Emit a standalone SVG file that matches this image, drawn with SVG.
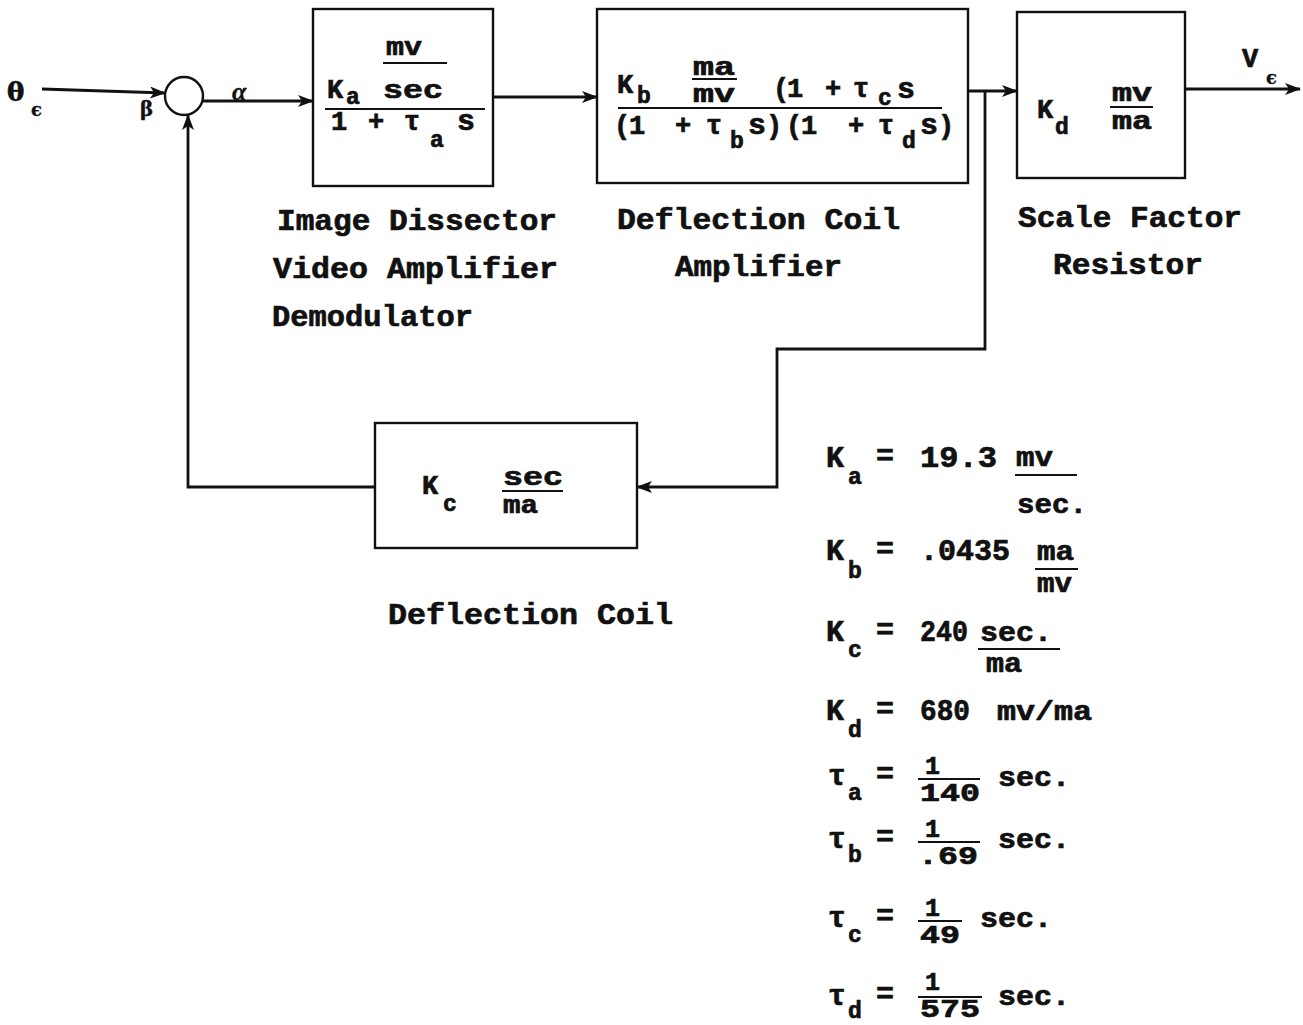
<svg xmlns="http://www.w3.org/2000/svg" width="1303" height="1025" viewBox="0 0 1303 1025">
<style>
.box{fill:none;stroke:#111;stroke-width:2.4}
.ln{fill:none;stroke:#111;stroke-width:2.8}
.fl{fill:none;stroke:#111;stroke-width:2.2}
text{font-family:"Liberation Mono","DejaVu Sans Mono",monospace;font-weight:bold;fill:#111;stroke:#111;stroke-width:0.7}
.lbl{font-size:30px}
.m{font-size:25px}
.c{font-size:27px}
.sb{font-size:23px}
.big{font-size:30px}
.p{font-size:30px}
.fr{font-size:25px}
.ps{font-size:27px}
.gr{font-family:"DejaVu Serif","Liberation Serif",serif}
</style>
<defs>
<marker id="ah" markerUnits="userSpaceOnUse" markerWidth="16" markerHeight="12" refX="15" refY="6" orient="auto">
<path d="M0,0 L16,6 L0,12 L4,6 z" fill="#111"/>
</marker>
</defs>
<rect width="1303" height="1025" fill="#fff"/>

<g id="connectors">
<line class="ln" x1="42" y1="89" x2="165" y2="93" marker-end="url(#ah)"/>
<line class="ln" x1="203" y1="101" x2="313" y2="101" marker-end="url(#ah)"/>
<line class="ln" x1="493" y1="97" x2="597" y2="97" marker-end="url(#ah)"/>
<line class="ln" x1="968" y1="91" x2="1017" y2="91" marker-end="url(#ah)"/>
<polyline class="ln" points="985,91 985,349 777,349 777,487 637,487" marker-end="url(#ah)"/>
<line class="ln" x1="1185" y1="89" x2="1300" y2="89" marker-end="url(#ah)"/>
<polyline class="ln" points="375,487 188,487 188,115" marker-end="url(#ah)"/>
</g>

<g id="input">
<text class="gr" x="7" y="101" font-size="26">θ</text>
<text class="gr" x="31" y="116" font-size="18" style="stroke-width:0.3">ϵ</text>
</g>

<g id="sum">
<circle cx="184" cy="96" r="19" class="box"/>
<text class="gr" x="140" y="116" font-size="20" style="stroke-width:0.3">β</text>
<text x="232" y="100" font-size="26" style="font-family:'Liberation Serif',serif;font-style:italic;font-weight:bold;stroke-width:0.3">α</text>
</g>

<g id="block1">
<rect class="box" x="313" y="9" width="180" height="177"/>
<text class="m" x="386" y="55" textLength="36" lengthAdjust="spacingAndGlyphs">mv</text>
<line class="fl" x1="383" y1="63" x2="447" y2="63"/>
<text class="c" x="327" y="98">K</text>
<text class="sb" x="346" y="104">a</text>
<text class="m" x="383" y="98" textLength="60" lengthAdjust="spacingAndGlyphs">sec</text>
<line class="fl" x1="325" y1="109" x2="485" y2="109"/>
<text class="c" x="331" y="130">1</text>
<text class="c" x="368" y="130">+</text>
<text class="c" x="404" y="130">τ</text>
<text class="sb" x="430" y="147">a</text>
<text class="big" x="457" y="130">s</text>
<text class="lbl" x="277" y="230" textLength="280" lengthAdjust="spacingAndGlyphs">Image Dissector</text>
<text class="lbl" x="273" y="278" textLength="285" lengthAdjust="spacingAndGlyphs">Video Amplifier</text>
<text class="lbl" x="272" y="326" textLength="201" lengthAdjust="spacingAndGlyphs">Demodulator</text>
</g>

<g id="block2">
<rect class="box" x="597" y="9" width="371" height="174"/>
<text class="c" x="617" y="93">K</text>
<text class="sb" x="637" y="103">b</text>
<text class="m" x="693" y="75" textLength="42" lengthAdjust="spacingAndGlyphs">ma</text>
<line class="fl" x1="692" y1="79" x2="737" y2="79"/>
<text class="m" x="693" y="102" textLength="42" lengthAdjust="spacingAndGlyphs">mv</text>
<text class="c" x="773" y="97">(</text>
<text class="c" x="787" y="97">1</text>
<text class="c" x="825" y="97">+</text>
<text class="c" x="853" y="97">τ</text>
<text class="sb" x="878" y="105" font-size="21">c</text>
<text class="big" x="897" y="98">s</text>
<line class="fl" x1="618" y1="108" x2="942" y2="108"/>
<text class="c" x="614" y="134">(</text>
<text class="c" x="629" y="134">1</text>
<text class="c" x="675" y="134">+</text>
<text class="c" x="706" y="134">τ</text>
<text class="sb" x="730" y="148">b</text>
<text class="big" x="748" y="134">s</text>
<text class="c" x="766" y="134">)</text>
<text class="c" x="786" y="134">(</text>
<text class="c" x="801" y="134">1</text>
<text class="c" x="848" y="134">+</text>
<text class="c" x="878" y="134">τ</text>
<text class="sb" x="902" y="148">d</text>
<text class="big" x="920" y="134">s</text>
<text class="c" x="938" y="134">)</text>
<text class="lbl" x="617" y="229" textLength="283" lengthAdjust="spacingAndGlyphs">Deflection Coil</text>
<text class="lbl" x="675" y="276" textLength="167" lengthAdjust="spacingAndGlyphs">Amplifier</text>
</g>

<g id="block3">
<rect class="box" x="1017" y="12" width="168" height="166"/>
<text class="c" x="1037" y="118">K</text>
<text class="sb" x="1055" y="134">d</text>
<text class="m" x="1112" y="101" textLength="40" lengthAdjust="spacingAndGlyphs">mv</text>
<line class="fl" x1="1110" y1="107" x2="1153" y2="107"/>
<text class="m" x="1112" y="129" textLength="40" lengthAdjust="spacingAndGlyphs">ma</text>
<text class="lbl" x="1018" y="227" textLength="224" lengthAdjust="spacingAndGlyphs">Scale Factor</text>
<text class="lbl" x="1053" y="274" textLength="150" lengthAdjust="spacingAndGlyphs">Resistor</text>
</g>

<g id="output">
<text class="c" x="1242" y="67">V</text>
<text class="gr" x="1266" y="84" font-size="18" style="stroke-width:0.3">ϵ</text>
</g>

<g id="block4">
<rect class="box" x="375" y="423" width="262" height="125"/>
<text class="c" x="422" y="494">K</text>
<text class="sb" x="443" y="511">c</text>
<text class="m" x="503" y="485" textLength="60" lengthAdjust="spacingAndGlyphs">sec</text>
<line class="fl" x1="502" y1="491" x2="563" y2="491"/>
<text class="m" x="503" y="513" textLength="35" lengthAdjust="spacingAndGlyphs">ma</text>
<text class="lbl" x="388" y="624" textLength="285" lengthAdjust="spacingAndGlyphs">Deflection Coil</text>
</g>

<g id="parameters">
<text class="p" x="826" y="467">K</text><text class="sb" x="848" y="484">a</text>
<text class="p" x="876" y="465">=</text>
<text class="p" x="920" y="467" textLength="77" lengthAdjust="spacingAndGlyphs">19.3</text>
<text class="ps" x="1016" y="466" textLength="37" lengthAdjust="spacingAndGlyphs">mv</text>
<line class="fl" x1="1015" y1="475" x2="1077" y2="475"/>
<text class="ps" x="1017" y="513" textLength="70" lengthAdjust="spacingAndGlyphs">sec.</text>

<text class="p" x="826" y="560">K</text><text class="sb" x="848" y="578">b</text>
<text class="p" x="876" y="558">=</text>
<text class="p" x="920" y="560" textLength="90" lengthAdjust="spacingAndGlyphs">.0435</text>
<text class="ps" x="1037" y="560" textLength="37" lengthAdjust="spacingAndGlyphs">ma</text>
<line class="fl" x1="1035" y1="569" x2="1078" y2="569"/>
<text class="ps" x="1037" y="592" textLength="35" lengthAdjust="spacingAndGlyphs">mv</text>

<text class="p" x="826" y="641">K</text><text class="sb" x="848" y="657">c</text>
<text class="p" x="876" y="639">=</text>
<text class="p" x="920" y="641" textLength="48" lengthAdjust="spacingAndGlyphs">240</text>
<text class="ps" x="980" y="641" textLength="72" lengthAdjust="spacingAndGlyphs">sec.</text>
<line class="fl" x1="978" y1="649" x2="1060" y2="649"/>
<text class="ps" x="986" y="672" textLength="36" lengthAdjust="spacingAndGlyphs">ma</text>

<text class="p" x="826" y="720">K</text><text class="sb" x="848" y="737">d</text>
<text class="p" x="876" y="718">=</text>
<text class="p" x="920" y="720" textLength="50" lengthAdjust="spacingAndGlyphs">680</text>
<text class="ps" x="997" y="720" textLength="95" lengthAdjust="spacingAndGlyphs">mv/ma</text>

<text class="p" x="828" y="785">τ</text><text class="sb" x="848" y="800">a</text>
<text class="p" x="876" y="783">=</text>
<text class="fr" x="925" y="774">1</text>
<line class="fl" x1="918" y1="779" x2="980" y2="779"/>
<text class="fr" x="920" y="801" textLength="60" lengthAdjust="spacingAndGlyphs">140</text>
<text class="ps" x="998" y="786" textLength="72" lengthAdjust="spacingAndGlyphs">sec.</text>

<text class="p" x="828" y="848">τ</text><text class="sb" x="848" y="862">b</text>
<text class="p" x="876" y="846">=</text>
<text class="fr" x="925" y="837">1</text>
<line class="fl" x1="918" y1="842" x2="980" y2="842"/>
<text class="fr" x="918" y="864" textLength="60" lengthAdjust="spacingAndGlyphs">.69</text>
<text class="ps" x="998" y="848" textLength="72" lengthAdjust="spacingAndGlyphs">sec.</text>

<text class="p" x="828" y="927">τ</text><text class="sb" x="848" y="942">c</text>
<text class="p" x="876" y="925">=</text>
<text class="fr" x="925" y="916">1</text>
<line class="fl" x1="918" y1="921" x2="962" y2="921"/>
<text class="fr" x="920" y="943" textLength="40" lengthAdjust="spacingAndGlyphs">49</text>
<text class="ps" x="980" y="927" textLength="72" lengthAdjust="spacingAndGlyphs">sec.</text>

<text class="p" x="828" y="1005">τ</text><text class="sb" x="848" y="1018">d</text>
<text class="p" x="876" y="1003">=</text>
<text class="fr" x="925" y="990" font-size="24">1</text>
<line class="fl" x1="918" y1="997" x2="982" y2="997"/>
<text class="fr" x="920" y="1017" font-size="24" textLength="60" lengthAdjust="spacingAndGlyphs">575</text>
<text class="ps" x="998" y="1005" textLength="72" lengthAdjust="spacingAndGlyphs">sec.</text>
</g>
</svg>
